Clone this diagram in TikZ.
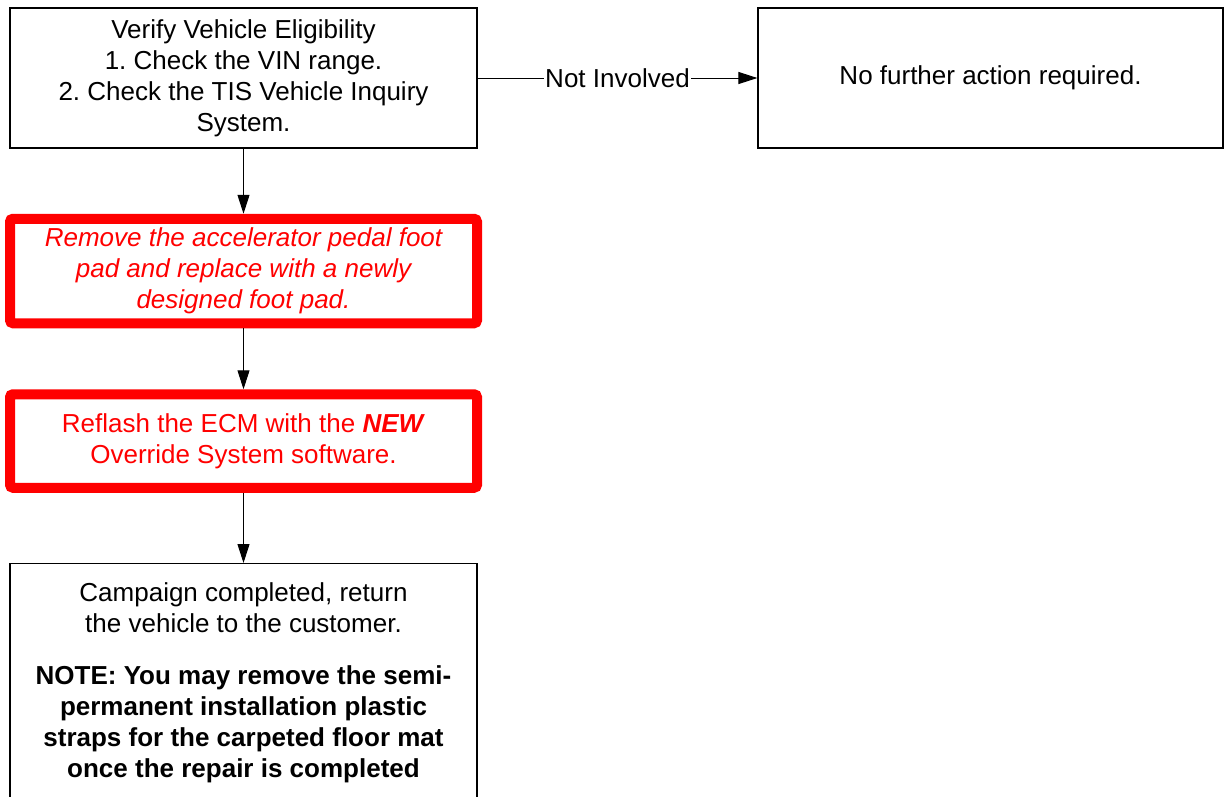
\documentclass[tikz,border=0pt]{standalone}
\usepackage{fontspec}
\setmainfont{Liberation Sans}
\usetikzlibrary{arrows.meta,positioning}
\tikzset{box/.style={draw=black, line width=1.2pt, minimum width=467pt, inner sep=0, align=center, font=\fontsize{26}{31}\selectfont\frenchspacing},
  redbox/.style={box, draw=red, text=red, line width=10pt, rounded corners=3pt},
  arr/.style={-{Triangle[length=19pt, width=12pt]}, line width=1pt}}

\begin{document}
\begin{tikzpicture}[x=1pt,y=-1pt]
    \useasboundingbox (0,0) rectangle (1225,796);
    \clip (0,0) rectangle (1225,796);

    \node[box, minimum height=140pt](verify) at (243.5,78) {Verify Vehicle Eligibility\\1. Check the VIN range.\\2. Check the TIS Vehicle Inquiry\\System.};
    \node[box, minimum width=465pt, minimum height=140pt](noaction) at (990.5,78) {No further action required.};

    \node[redbox, minimum height=104.5pt](footpad) at (243.5,271) {\itshape Remove the accelerator pedal foot\\\itshape pad and replace with a newly\\\itshape designed foot pad.};
    \node[redbox, minimum height=93.5pt](reflash) at (243.5,441) {Reflash the ECM with the \textbf{\textit{NEW}}\\Override System software.};

    \node[box, anchor=north](done) at (243.5,563) {\parbox[t][260pt][t]{467pt}{\centering\vspace*{19.5pt}%
      Campaign completed, return\\the vehicle to the customer.\par\vspace{21pt}
      \textbf{NOTE: You may remove the semi-\\permanent installation plastic\\straps for the carpeted floor mat\\once the repair is completed}}};

    \draw[arr] (verify) -- node[fill=white, inner sep=1pt, font=\fontsize{26}{31}\selectfont] {Not Involved} (noaction);
    \draw[arr] (verify) -- (footpad);
    \draw[arr] (footpad) -- (reflash);
    \draw[arr] (reflash) -- (done);
\end{tikzpicture}
\end{document}
